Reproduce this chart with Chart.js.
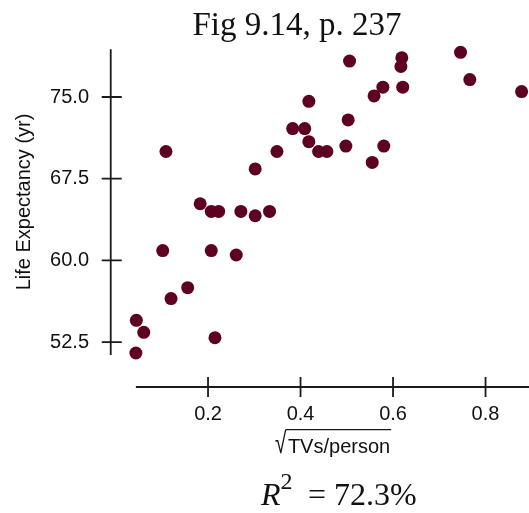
<!DOCTYPE html>
<html>
<head>
<meta charset="utf-8">
<title>Fig 9.14</title>
<script src="https://cdn.jsdelivr.net/npm/chart.js@4/dist/chart.umd.min.js"></script>
<style>
    html, body { margin: 0; padding: 0; background: #ffffff; }
    canvas { display: block; }
</style>
</head>
<body>
<canvas id="scatterChart" width="529" height="513"></canvas>
<script>
// sqrt(TVs/person) vs life expectancy
const tvsPerPerson = [
    0.109, 0.302, 0.349, 0.383, 0.409, 0.418, 0.418, 0.439, 0.457, 0.498,
    0.503, 0.506, 0.555, 0.559, 0.578, 0.580, 0.617, 0.619, 0.621, 0.746,
    0.766, 0.878, 0.183, 0.207, 0.223, 0.271, 0.302, 0.333, 0.102, 0.207,
    0.261, 0.156, 0.120, 0.045, 0.061, 0.215, 0.044
];
const lifeExpectancy = [
    70.0, 68.4, 70.0, 72.1, 72.1, 74.6, 70.9, 70.0, 70.0, 70.5,
    72.9, 78.3, 69.0, 75.1, 75.9, 70.5, 77.8, 78.6, 75.9, 79.1,
    76.6, 75.5, 65.2, 64.5, 64.5, 64.5, 64.1, 64.5, 60.9, 60.9,
    60.5, 57.5, 56.5, 54.5, 53.4, 52.9, 51.5
];
const xTicks = [0.2, 0.4, 0.6, 0.8];
const yTicks = [52.5, 60.0, 67.5, 75.0];

const chartTitle = 'Fig 9.14, p. 237';
const xLabel = 'TVs/person';
const yLabel = 'Life Expectancy (yr)';
const rSquared = '72.3%';

const pointColor = '#5e0022';
const inkColor = '#1a1a1a';

let points = tvsPerPerson.map((x, i) => ({ x: x, y: lifeExpectancy[i] }));

// axes are drawn R-style: detached lines spanning the data range, ticks crossing the line
const figurePlugin = {
    id: 'figureText',
    afterDraw(chart) {
        const ctx = chart.ctx;
        const xs = chart.scales.x;
        const ys = chart.scales.y;
        const area = chart.chartArea;

        ctx.save();
        ctx.strokeStyle = inkColor;
        ctx.lineWidth = 1.8;

        // y axis
        let yTop = ys.getPixelForValue(Math.max(...lifeExpectancy));
        let yBottom = ys.getPixelForValue(Math.min(...lifeExpectancy));
        ctx.beginPath();
        ctx.moveTo(area.left, yTop - 3);
        ctx.lineTo(area.left, yBottom + 2);
        yTicks.forEach(v => {
            let py = ys.getPixelForValue(v);
            ctx.moveTo(area.left - 9, py);
            ctx.lineTo(area.left + 11, py);
        });
        ctx.stroke();

        // x axis
        let xLeft = xs.getPixelForValue(Math.min(...tvsPerPerson));
        let xRight = xs.getPixelForValue(Math.max(...tvsPerPerson));
        ctx.beginPath();
        ctx.moveTo(xLeft, area.bottom);
        ctx.lineTo(xRight + 10, area.bottom);
        xTicks.forEach(v => {
            let px = xs.getPixelForValue(v);
            ctx.moveTo(px, area.bottom - 10);
            ctx.lineTo(px, area.bottom + 10);
        });
        ctx.stroke();

        ctx.fillStyle = '#111111';

        // title
        ctx.font = '33px "Liberation Serif"';
        ctx.textAlign = 'center';
        ctx.textBaseline = 'alphabetic';
        ctx.fillText(chartTitle, 297, 35);

        // y label
        ctx.save();
        ctx.translate(24, 202);
        ctx.rotate(-Math.PI / 2);
        ctx.font = '20px "Liberation Sans"';
        ctx.textBaseline = 'middle';
        ctx.fillText(yLabel, 0, 0);
        ctx.restore();

        // x label: radical sign stretched up to its bar
        ctx.textAlign = 'left';
        ctx.font = '20px "Liberation Sans"';
        let labelWidth = ctx.measureText(xLabel).width;
        let baseY = 453;
        let barY = 429;
        ctx.font = '26px "Liberation Sans"';
        let root = ctx.measureText('\u221A');
        let rootSize = 26 * (baseY - barY) / Math.max(root.actualBoundingBoxAscent, 1);
        ctx.font = rootSize.toFixed(1) + 'px "Liberation Sans"';
        root = ctx.measureText('\u221A');
        let rootX = 275;
        let squeeze = 0.7;
        ctx.save();
        ctx.translate(rootX, baseY + root.actualBoundingBoxDescent * 0.2);
        ctx.scale(squeeze, 1);
        ctx.fillText('\u221A', 0, 0);
        ctx.restore();
        let textX = rootX + root.actualBoundingBoxRight * squeeze;
        ctx.font = '20px "Liberation Sans"';
        ctx.fillText(xLabel, textX + 1, baseY);
        ctx.lineWidth = 1.2;
        ctx.beginPath();
        ctx.moveTo(textX - 1, barY + 0.6);
        ctx.lineTo(textX + labelWidth + 2, barY + 0.6);
        ctx.stroke();

        // R^2 line
        ctx.font = 'italic 32px "Liberation Serif"';
        ctx.fillText('R', 261, 505);
        let rw = ctx.measureText('R').width;
        ctx.font = '24px "Liberation Serif"';
        ctx.fillText('2', 261 + rw, 488.5);
        ctx.font = '32px "Liberation Serif"';
        ctx.fillText('= ' + rSquared, 308, 505);

        ctx.restore();
    }
};

function fixedTicks(values) {
    return function (scale) {
        scale.ticks = values.map(v => ({ value: v }));
    };
}

let ctx = document.getElementById('scatterChart').getContext('2d');
let scatterChart = new Chart(ctx, {
    type: 'scatter',
    data: {
        datasets: [{
            data: points,
            backgroundColor: pointColor,
            borderColor: pointColor,
            borderWidth: 0,
            pointRadius: 6.5,
            pointHoverRadius: 6.5,
            clip: false
        }]
    },
    options: {
        responsive: false,
        animation: false,
        events: [],
        layout: {
            autoPadding: false,
            padding: { top: 42.55, left: 28.4, right: 0, bottom: 72 }
        },
        plugins: {
            legend: { display: false },
            title: { display: false },
            tooltip: { enabled: false }
        },
        scales: {
            x: {
                type: 'linear',
                min: -0.0104,
                max: 0.894,
                afterBuildTicks: fixedTicks(xTicks),
                grid: { display: false, drawTicks: false },
                border: { display: false },
                ticks: {
                    padding: 15,
                    color: '#111111',
                    font: { family: 'Liberation Sans', size: 20 },
                    callback: v => v.toFixed(1)
                }
            },
            y: {
                type: 'linear',
                min: 48.38,
                max: 80,
                afterBuildTicks: fixedTicks(yTicks),
                grid: { display: false, drawTicks: false },
                border: { display: false },
                ticks: {
                    padding: 21.7,
                    color: '#111111',
                    font: { family: 'Liberation Sans', size: 20 },
                    callback: v => v.toFixed(1)
                }
            }
        }
    },
    plugins: [figurePlugin]
});
</script>
</body>
</html>
